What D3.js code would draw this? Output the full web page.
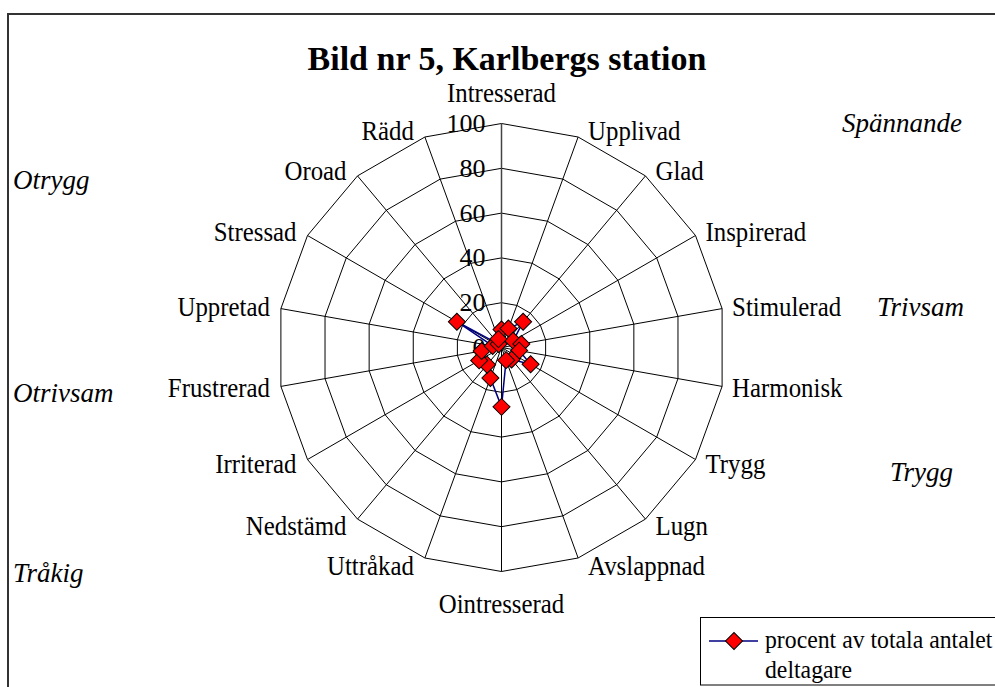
<!DOCTYPE html>
<html>
<head>
<meta charset="utf-8">
<script src="https://cdn.jsdelivr.net/npm/d3@7"></script>
<style>
  body { margin: 0; background: #fff; }
  text { font-family: "Liberation Serif", "Times New Roman", serif; fill: #000; }
</style>
</head>
<body>
<svg id="chart" width="995" height="687"></svg>
<script>
// categories clockwise from the top
const categories = ["Intresserad", "Upplivad", "Glad", "Inspirerad", "Stimulerad", "Harmonisk",
    "Trygg", "Lugn", "Avslappnad", "Ointresserad", "Uttråkad", "Nedstämd",
    "Irriterad", "Frustrerad", "Uppretad", "Stressad", "Oroad", "Rädd"];
const values = [8, 9, 15, 6, 9, 8, 15, 7, 6, 26.5, 14.5, 10, 11.5, 9, 4, 23, 2, 4];
const rings = [20, 40, 60, 80, 100];
const tickLabels = [0, 20, 40, 60, 80, 100];
const moodLabels = ["Spännande", "Otrygg", "Trivsam", "Otrivsam", "Trygg", "Tråkig"];
const seriesName = ["procent av totala antalet", "deltagare"];

const cx = 501.5, cy = 347.5;
const n = categories.length;

const svg = d3.select("#chart");

const r = d3.scaleLinear().domain([0, 100]).range([0, 224]);
const angle = d3.scaleLinear().domain([0, n]).range([0, 2 * Math.PI]);

const pt = (v, i) => [cx + r(v) * Math.sin(angle(i)), cy - r(v) * Math.cos(angle(i))];

// chart area border
svg.append("rect")
    .attr("x", 8).attr("y", 14)
    .attr("width", 1000).attr("height", 700)
    .attr("fill", "none").attr("stroke", "#333").attr("stroke-width", 2);

const g = svg.append("g");

// rings
rings.forEach(function (v) {
    g.append("path")
        .attr("d", d3.line()(d3.range(n).map(i => pt(v, i))) + "Z")
        .attr("fill", "none").attr("stroke", "#000").attr("stroke-width", 1);
});

// spokes
d3.range(n).forEach(function (i) {
    const p = pt(100, i);
    g.append("line")
        .attr("x1", cx).attr("y1", cy)
        .attr("x2", p[0]).attr("y2", p[1])
        .attr("stroke", i === 0 ? "#444" : "#000")
        .attr("stroke-width", i === 0 ? 1.5 : 1);
});

// value axis labels
g.selectAll("text.tick")
    .data(tickLabels)
    .enter().append("text")
        .attr("class", "tick")
        .attr("x", cx - 16)
        .attr("y", d => cy - r(d))
        .attr("dominant-baseline", "central")
        .attr("text-anchor", "end")
        .style("font-size", "26px")
        .text(d => d);

// category labels (font looks a bit condensed in the original)
categories.forEach(function (name, i) {
    const a = angle(i);
    const s = Math.sin(a), c = Math.cos(a);
    const v = pt(100, i);
    let x, y, anchor;
    if (Math.abs(s) < 0.01) {
        x = v[0];
        y = c > 0 ? v[1] - 30 : v[1] + 33;
        anchor = "middle";
    } else {
        x = v[0] + (s > 0 ? 10 : -11);
        y = v[1] - (c > 0 ? 6 : 9) * c;
        anchor = s > 0 ? "start" : "end";
    }
    g.append("text")
        .attr("transform", `translate(${x},${y}) scale(0.92,1)`)
        .attr("dominant-baseline", "central")
        .attr("text-anchor", anchor)
        .style("font-size", "27px")
        .text(name);
});

// series line
const line = d3.lineRadial()
    .angle((d, i) => angle(i))
    .radius(d => r(d))
    .curve(d3.curveLinearClosed);

g.append("path")
    .datum(values)
    .attr("transform", `translate(${cx},${cy})`)
    .attr("d", line)
    .attr("fill", "none")
    .attr("stroke", "#000080")
    .attr("stroke-width", 1.5);

const diamond = d3.symbol().type(d3.symbolSquare).size(145);

g.selectAll("path.marker")
    .data(values)
    .enter().append("path")
        .attr("class", "marker")
        .attr("d", diamond)
        .attr("transform", (d, i) => `translate(${pt(d, i)[0]},${pt(d, i)[1]}) rotate(45)`)
        .attr("fill", "#ff0000")
        .attr("stroke", "#000")
        .attr("stroke-width", 1);

// title
svg.append("text")
    .attr("x", 507).attr("y", 70)
    .attr("text-anchor", "middle")
    .style("font-size", "34px")
    .style("font-weight", "bold")
    .text("Bild nr 5, Karlbergs station");

// mood labels in the corners
const moodPos = [[842, 132, "start"], [13, 189, "start"], [877, 316, "start"],
                 [13, 402, "start"], [890, 481, "start"], [13, 582, "start"]];
moodLabels.forEach(function (t, i) {
    svg.append("text")
        .attr("x", moodPos[i][0]).attr("y", moodPos[i][1])
        .attr("text-anchor", moodPos[i][2])
        .style("font-size", "27px")
        .style("font-style", "italic")
        .text(t);
});

// legend
const legend = svg.append("g");
legend.append("rect")
    .attr("x", 700.5).attr("y", 617.5)
    .attr("width", 400).attr("height", 67.5)
    .attr("fill", "#fff").attr("stroke", "#000").attr("stroke-width", 1);
legend.append("line")
    .attr("x1", 709).attr("x2", 758)
    .attr("y1", 641).attr("y2", 641)
    .attr("stroke", "#000080").attr("stroke-width", 1.5);
legend.append("path")
    .attr("d", diamond)
    .attr("transform", "translate(734,641) rotate(45)")
    .attr("fill", "#ff0000").attr("stroke", "#000");
legend.selectAll("text.leg")
    .data(seriesName)
    .enter().append("text")
        .attr("class", "leg")
        .attr("transform", (d, i) => `translate(765,${648 + i * 30}) scale(0.95,1)`)
        .style("font-size", "25px")
        .text(d => d);
</script>
</body>
</html>
